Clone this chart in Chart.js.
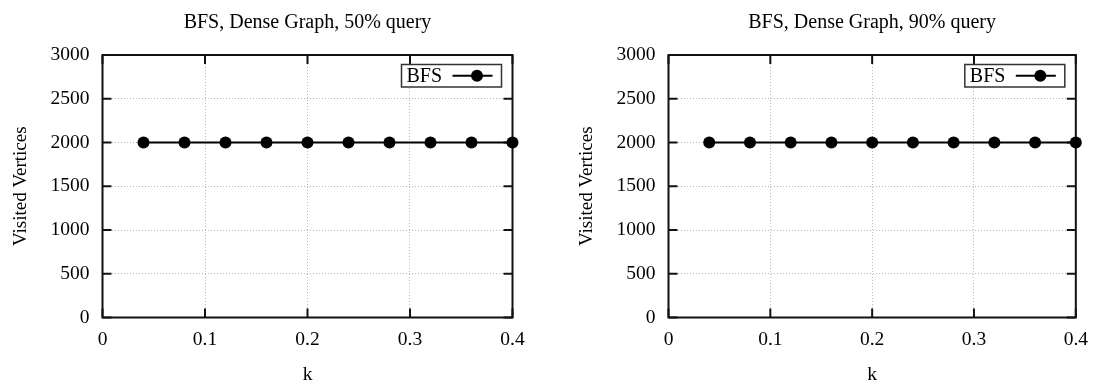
<!DOCTYPE html>
<html>
<head>
<meta charset="utf-8">
<script src="https://cdn.jsdelivr.net/npm/chart.js@4.4.1/dist/chart.umd.min.js"></script>
<style>
  html, body { margin: 0; padding: 0; background: #fff; }
  body { width: 1099px; height: 387px; position: relative; overflow: hidden; }
  .panel { position: absolute; top: 0; height: 387px; }
  #left { left: 0; width: 566px; }
  #right { left: 566px; width: 533px; }
</style>
</head>
<body>
<div class="panel" id="left"><canvas id="c1" width="566" height="387"></canvas></div>
<div class="panel" id="right"><canvas id="c2" width="533" height="387"></canvas></div>
<script>
// k values (fraction of graph) and visited vertex counts for each query ratio
const kValues = [0.04, 0.08, 0.12, 0.16, 0.20, 0.24, 0.28, 0.32, 0.36, 0.40];
const visited50 = [2000, 2000, 2000, 2000, 2000, 2000, 2000, 2000, 2000, 2000];
const visited90 = [2000, 2000, 2000, 2000, 2000, 2000, 2000, 2000, 2000, 2000];
const xTickValues = [0, 0.1, 0.2, 0.3, 0.4];
const yTickValues = [0, 500, 1000, 1500, 2000, 2500, 3000];
const seriesLabel = 'BFS';
const panelTitles = ['BFS, Dense Graph, 50% query', 'BFS, Dense Graph, 90% query'];

const SERIF = '"Liberation Serif", "Times New Roman", serif';

// Frame around the plot area plus inward-pointing tick marks on all four sides
const framePlugin = {
  id: 'frame',
  beforeDatasetsDraw(chart) {
    const { ctx, chartArea: a, scales: { x, y } } = chart;
    const len = 9;
    ctx.save();
    ctx.strokeStyle = '#111';
    ctx.lineWidth = 2;
    ctx.beginPath();
    x.ticks.forEach(t => {
      const px = x.getPixelForValue(t.value);
      ctx.moveTo(px, a.bottom); ctx.lineTo(px, a.bottom - len);
      ctx.moveTo(px, a.top); ctx.lineTo(px, a.top + len);
    });
    y.ticks.forEach(t => {
      const py = y.getPixelForValue(t.value);
      ctx.moveTo(a.left, py); ctx.lineTo(a.left + len, py);
      ctx.moveTo(a.right, py); ctx.lineTo(a.right - len, py);
    });
    ctx.stroke();
    ctx.strokeRect(a.left, a.top, a.right - a.left, a.bottom - a.top);
    ctx.restore();
  }
};

// Boxed key in the upper right corner: label text, then a line sample with a marker
const keyPlugin = {
  id: 'key',
  afterDatasetsDraw(chart) {
    const { ctx, chartArea: a } = chart;
    const ds = chart.data.datasets[0];
    const bx = a.right - 111, by = a.top + 9.5, bw = 100, bh = 22.5;
    ctx.save();
    ctx.fillStyle = '#fff';
    ctx.fillRect(bx, by, bw, bh);
    ctx.strokeStyle = '#333';
    ctx.lineWidth = 1.5;
    ctx.strokeRect(bx, by, bw, bh);
    ctx.fillStyle = '#000';
    ctx.font = '20px ' + SERIF;
    ctx.textBaseline = 'middle';
    ctx.textAlign = 'left';
    ctx.fillText(ds.label, bx + 5, by + bh / 2 + 1);
    const cy = by + bh / 2;
    ctx.strokeStyle = ds.borderColor;
    ctx.lineWidth = ds.borderWidth;
    ctx.beginPath();
    ctx.moveTo(bx + 51, cy); ctx.lineTo(bx + 100 - 9, cy);
    ctx.stroke();
    ctx.fillStyle = ds.pointBackgroundColor;
    ctx.beginPath();
    ctx.arc(bx + 75.5, cy, ds.pointRadius, 0, Math.PI * 2);
    ctx.fill();
    ctx.restore();
  }
};

function makeChart(canvasId, title, values, rightPad) {
  return new Chart(document.getElementById(canvasId), {
    type: 'line',
    data: {
      labels: kValues,
      datasets: [{
        label: seriesLabel,
        data: kValues.map((k, i) => ({ x: k, y: values[i] })),
        borderColor: '#000',
        borderWidth: 2,
        pointRadius: 6,
        pointHoverRadius: 6,
        pointBackgroundColor: '#000',
        pointBorderColor: '#000',
        pointBorderWidth: 0,
        tension: 0,
        clip: false
      }]
    },
    options: {
      responsive: false,
      animation: false,
      devicePixelRatio: 1,
      layout: { padding: { left: 0, right: rightPad, top: 0, bottom: 0 } },
      plugins: {
        legend: { display: false },
        tooltip: { enabled: false },
        title: {
          display: true,
          fullSize: false,
          text: title,
          color: '#000',
          font: { family: SERIF, size: 20, weight: 'normal', lineHeight: 1.2 },
          padding: { top: 11, bottom: 20 }
        }
      },
      scales: {
        x: {
          type: 'linear',
          min: 0,
          max: 0.4,
          afterBuildTicks(scale) { scale.ticks = xTickValues.map(v => ({ value: v })); },
          afterFit(scale) { scale.height = 69.5; },
          ticks: {
            color: '#000',
            padding: 11,
            font: { family: SERIF, size: 19.5 },
            callback: v => String(v)
          },
          grid: { color: '#b8b8b8', lineWidth: 1, drawTicks: false },
          border: { display: false, dash: [1, 2] },
          title: {
            display: true,
            text: 'k',
            color: '#000',
            font: { family: SERIF, size: 19.5 },
            padding: { top: 0, bottom: 0 }
          }
        },
        y: {
          min: 0,
          max: 3000,
          afterBuildTicks(scale) { scale.ticks = yTickValues.map(v => ({ value: v })); },
          afterFit(scale) { scale.width = 102.5; },
          ticks: {
            color: '#000',
            padding: 13,
            font: { family: SERIF, size: 19.5 },
            callback: v => String(v)
          },
          grid: { color: '#b8b8b8', lineWidth: 1, drawTicks: false },
          border: { display: false, dash: [1, 2] },
          title: {
            display: true,
            text: 'Visited Vertices',
            color: '#000',
            font: { family: SERIF, size: 19 },
            padding: { top: 9.5, bottom: 0 }
          }
        }
      }
    },
    plugins: [framePlugin, keyPlugin]
  });
}

makeChart('c1', panelTitles[0], visited50, 53.5);
makeChart('c2', panelTitles[1], visited90, 20);
</script>
</body>
</html>
